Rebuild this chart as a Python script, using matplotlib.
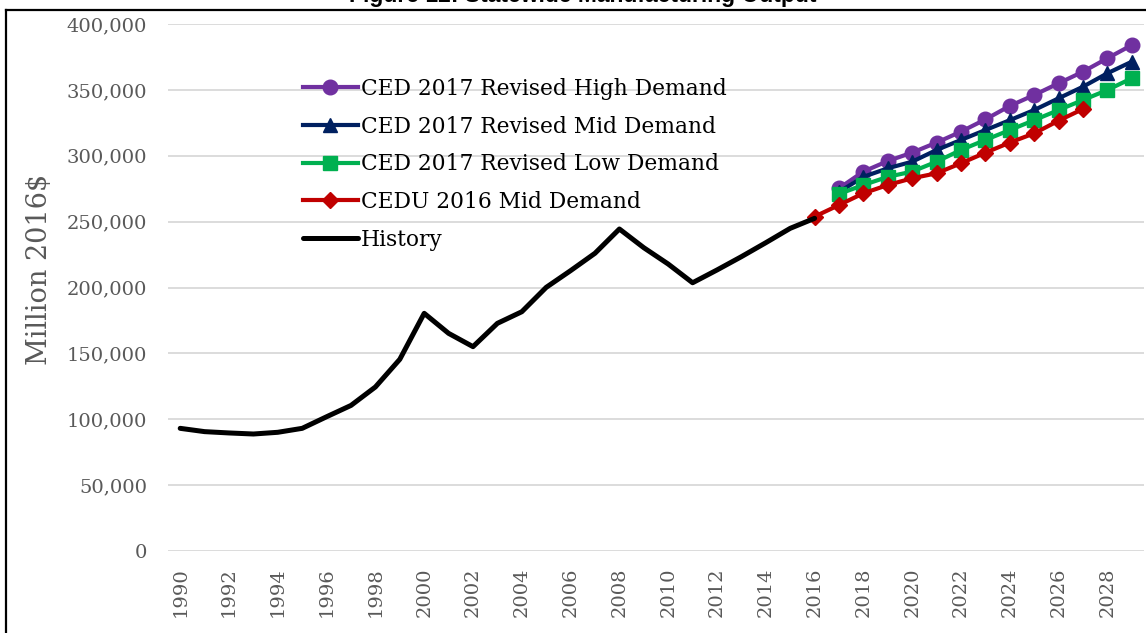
import matplotlib
matplotlib.use("Agg")
import matplotlib.pyplot as plt
from matplotlib.lines import Line2D
from matplotlib.ticker import FuncFormatter, MultipleLocator

# ---------------- data ----------------
hist_years = list(range(1990, 2017))
history = [93100, 90600, 89600, 88800, 90100, 93100, 101900, 110500, 124500, 145500,
           180400, 165200, 155100, 172800, 181600, 200100, 212800, 226000, 244400, 230200,
           217800, 203600, 213300, 223400, 234000, 244900, 252500]

ced17_years = list(range(2017, 2030))
ced17_high = [275300, 288000, 296000, 302400, 310000, 318300, 327600, 337800, 346100,
              355000, 363800, 374000, 384000]
ced17_mid = [272500, 284000, 290500, 295500, 304400, 312000, 319500, 327000, 334700,
             343600, 352400, 362600, 371400]
ced17_low = [271000, 277800, 284000, 288000, 295500, 304400, 312000, 319500, 327000,
             334700, 342300, 349900, 358800]

cedu16_years = list(range(2016, 2028))
cedu16_mid = [253800, 262600, 271500, 277800, 282900, 286700, 294300, 302300, 310000,
              317000, 326600, 335500]

labels = ["CED 2017 Revised High Demand", "CED 2017 Revised Mid Demand",
          "CED 2017 Revised Low Demand", "CEDU 2016 Mid Demand", "History"]
title = "Figure 12: Statewide Manufacturing Output"
ylabel = "Million 2016$"

# ---------------- figure ----------------
W, H = 1146, 633
fig = plt.figure(figsize=(W / 100, H / 100), dpi=100)
serif = "DejaVu Serif"
gray = "#595959"

ax = fig.add_axes([168 / W, (H - 551) / H, 976 / W, 527 / H])
ax.set_xlim(1989.5, 2029.5)
ax.set_ylim(0, 400000)

ax.yaxis.set_major_locator(MultipleLocator(50000))
ax.xaxis.set_major_locator(MultipleLocator(2))
ax.yaxis.set_major_formatter(FuncFormatter(lambda v, p: f"{int(v):,}"))
ax.grid(axis="y", color="#D9D9D9", linewidth=1.3)
ax.set_axisbelow(True)
for s in ax.spines.values():
    s.set_visible(False)
ax.tick_params(axis="both", length=0, labelcolor=gray, labelsize=14)
ax.tick_params(axis="y", pad=15)
ax.tick_params(axis="x", pad=12, labelrotation=90)
for t in ax.get_xticklabels() + ax.get_yticklabels():
    t.set_fontfamily(serif)

lw = 3.0
ms = 10.5
ax.plot(ced17_years, ced17_high, color="#7030A0", lw=lw, marker="o", ms=ms,
        label=labels[0], zorder=3)
ax.plot(ced17_years, ced17_mid, color="#002060", lw=lw, marker="^", ms=ms,
        label=labels[1], zorder=4)
ax.plot(ced17_years, ced17_low, color="#00B050", lw=lw, marker="s", ms=ms - 0.5,
        label=labels[2], zorder=5)
ax.plot(cedu16_years, cedu16_mid, color="#C00000", lw=lw, marker="D", ms=ms - 2,
        label=labels[3], zorder=6)
ax.plot(hist_years, history, color="black", lw=3.6, solid_capstyle="round",
        solid_joinstyle="round", label=labels[4], zorder=7)

leg = ax.legend(loc="upper left", bbox_to_anchor=(303 / W, 1 - 78 / H),
                bbox_transform=fig.transFigure, frameon=False,
                prop={"family": serif, "size": 15.7}, handlelength=2.5,
                handletextpad=0.15, labelspacing=0.72, borderpad=0,
                borderaxespad=0)
for txt in leg.get_texts():
    txt.set_color("black")

fig.text(40 / W, 1 - 269 / H, ylabel, rotation=90, ha="center", va="center",
         fontsize=19.5, color=gray, family=serif)

fig.text(583 / W, 1 - 2 / H, title, ha="center", va="baseline",
         fontsize=16.5, fontweight="bold", family="Liberation Sans")

# outer frame (partially cropped)
fig.add_artist(Line2D([6 / W, 6 / W], [0, 1 - 9.5 / H], color="black",
                      lw=1.6, transform=fig.transFigure))
fig.add_artist(Line2D([6 / W, 1], [1 - 9.5 / H, 1 - 9.5 / H], color="black",
                      lw=1.6, transform=fig.transFigure))

fig.savefig("out.png", dpi=100)
